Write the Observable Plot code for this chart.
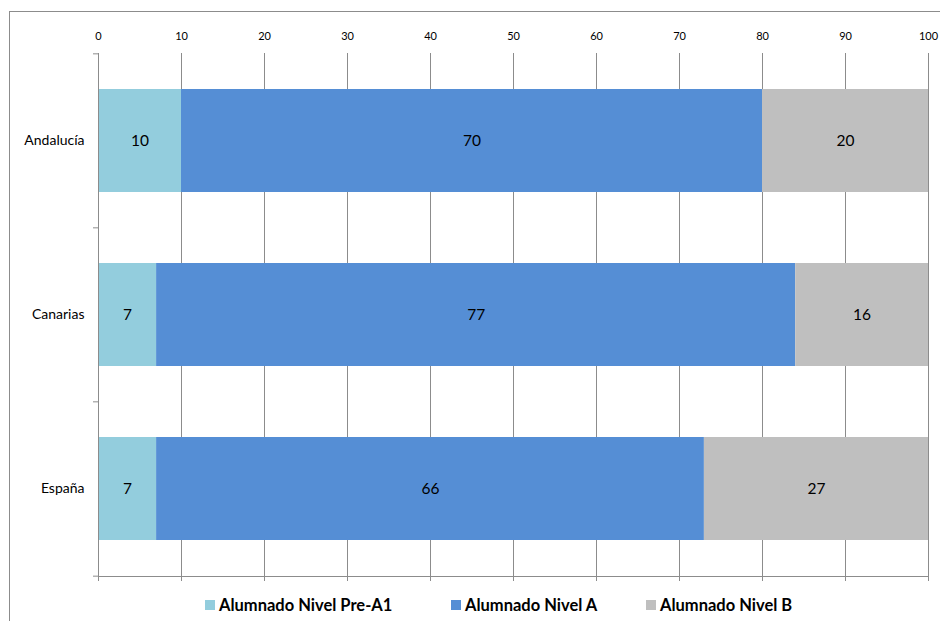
<!DOCTYPE html>
<html>
<head>
<meta charset="utf-8">
<script src="https://cdn.jsdelivr.net/npm/d3@7"></script>
<script src="https://cdn.jsdelivr.net/npm/@observablehq/plot@0.6"></script>
<style>
  html, body { margin: 0; padding: 0; background: #fff; }
  #wrap { position: relative; width: 940px; height: 621px; overflow: hidden; font-family: Lato, "Open Sans", sans-serif; }
  #frame { position: absolute; left: 9px; top: 11px; width: 1000px; height: 700px; border: 1px solid #8c8c8c; box-sizing: border-box; }
  #chart { position: absolute; left: 0; top: 0; }
  #legend { position: absolute; top: 595px; left: 0; width: 940px; height: 20px; }
  .item { position: absolute; top: 0; display: flex; align-items: center; font-weight: bold; font-size: 16.5px; color: #000; white-space: nowrap; }
  .sw { width: 10px; height: 10px; margin-right: 4px; }
</style>
</head>
<body>
<div id="wrap">
  <div id="frame"></div>
  <div id="chart"></div>
  <div id="legend"></div>
</div>
<script>
const regions = ["Andalucía", "Canarias", "España"];
const series = ["Alumnado Nivel Pre-A1", "Alumnado Nivel A", "Alumnado Nivel B"];
const preA1 = [10, 7, 7];
const nivelA = [70, 77, 66];
const nivelB = [20, 16, 27];
const xTicks = [0, 10, 20, 30, 40, 50, 60, 70, 80, 90, 100];
const colors = ["#93CDDD", "#558ED5", "#BFBFBF"];

const values = [preA1, nivelA, nivelB];
const data = [];
series.forEach((s, si) => regions.forEach((r, ri) => data.push({region: r, series: s, value: values[si][ri]})));

const chartH = 621, mTop = 53, mBottom = 45;
const step = (chartH - mTop - mBottom) / regions.length;

const chart = Plot.plot({
  width: 940,
  height: chartH,
  marginTop: mTop,
  marginBottom: mBottom,
  marginLeft: 98,
  marginRight: 12,
  style: {fontFamily: "Lato, 'Open Sans', sans-serif", background: "transparent", color: "#000"},
  x: {domain: [0, 100], axis: null, label: null},
  y: {domain: regions, paddingInner: 0.41, paddingOuter: 0.205, axis: null, label: null},
  color: {domain: series, range: colors},
  marks: [
    Plot.ruleX(xTicks, {stroke: "#8c8c8c", strokeWidth: 1, insetBottom: -5}),
    Plot.axisX({anchor: "top", ticks: xTicks, tickSize: 0, tickPadding: 14, fontSize: 11, label: null, tickFormat: d => String(d)}),
    Plot.barX(data, Plot.stackX({x: "value", y: "region", fill: "series", order: series})),
    Plot.text(data, Plot.stackX({x: "value", y: "region", z: "series", order: series, text: d => String(d.value), fontSize: 15.5, fill: "#000"})),
    Plot.axisY({anchor: "left", tickSize: 0, tickPadding: 14, fontSize: 14, label: null}),
    Plot.ruleY(regions, {y: d => d, x1: 0, x2: 0, insetLeft: -5, dy: -step / 2, stroke: "#8c8c8c"}),
    Plot.ruleY(regions.slice(-1), {y: d => d, x1: 0, x2: 0, insetLeft: -5, dy: step / 2, stroke: "#8c8c8c"}),
    Plot.frame({anchor: "left", stroke: "#8c8c8c"}),
    Plot.frame({anchor: "bottom", stroke: "#8c8c8c"})
  ]
});
document.getElementById("chart").appendChild(chart);

const lefts = [205, 451, 646];
const legend = document.getElementById("legend");
series.forEach((s, i) => {
  const it = document.createElement("div");
  it.className = "item";
  it.style.left = lefts[i] + "px";
  it.innerHTML = `<span class="sw" style="background:${colors[i]}"></span><span>${s}</span>`;
  legend.appendChild(it);
});
</script>
</body>
</html>
